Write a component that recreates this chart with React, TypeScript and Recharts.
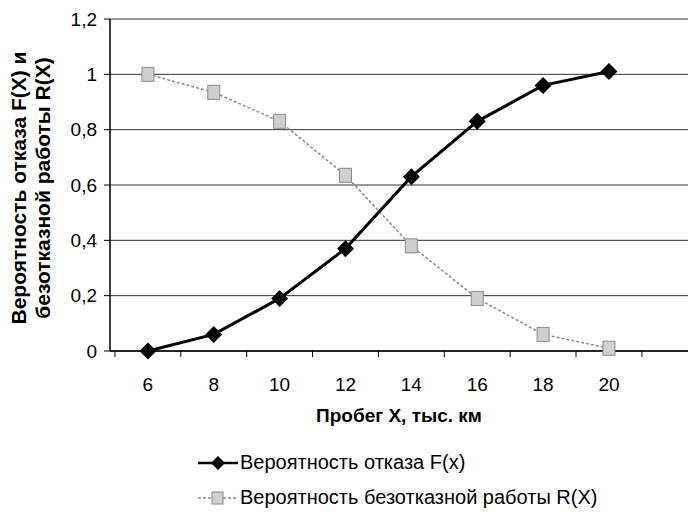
import React from 'react';
import { LineChart, Line, XAxis, YAxis, CartesianGrid, Legend, Label } from 'recharts';

const mileage = [6, 8, 10, 12, 14, 16, 18, 20];
const failure = [0, 0.06, 0.19, 0.37, 0.63, 0.83, 0.96, 1.01];
const reliability = [1.0, 0.935, 0.83, 0.635, 0.38, 0.19, 0.06, 0.01];
const yTicks = [0, 0.2, 0.4, 0.6, 0.8, 1, 1.2];
const xTicks = [5, 6, 7, 8, 9, 10, 11, 12, 13, 14, 15, 16, 17, 18, 19, 20, 21];

const fLabel = 'Вероятность отказа F(x)';
const rLabel = 'Вероятность безотказной работы R(X)';

const data = mileage.map((x, i) => ({ x, F: failure[i], R: reliability[i] }));

const FONT = '"Liberation Sans", Arial, sans-serif';

const Diamond = (props: any) => {
  const { cx, cy } = props;
  if (cx == null || cy == null) return null;
  const r = 8.5;
  return (
    <polygon
      points={`${cx},${cy - r} ${cx + r},${cy} ${cx},${cy + r} ${cx - r},${cy}`}
      fill="#000"
    />
  );
};

const Square = (props: any) => {
  const { cx, cy } = props;
  if (cx == null || cy == null) return null;
  return (
    <rect x={cx - 6} y={cy - 7} width={12} height={14} fill="#cfcfcf" stroke="#8c8c8c" strokeWidth={1} />
  );
};

// even values get a label, odd values get a tick mark between categories
const XTick = (props: any) => {
  const { x, y, payload } = props;
  const v = payload.value;
  if (v % 2 === 1) {
    return <line x1={x} y1={y} x2={x} y2={y + 6} stroke="#000" strokeWidth={1} />;
  }
  return (
    <text x={x} y={y + 27} textAnchor="middle" dy="0.71em" fontSize={19} fill="#000" fontFamily={FONT}>
      {v}
    </text>
  );
};

const YTitle = (props: any) => {
  const vb = props.viewBox;
  const cy = vb.y + vb.height / 2 + 3;
  const x1 = vb.x + 18;
  const x2 = vb.x + 42;
  return (
    <g fontFamily={FONT} fontSize={21} fontWeight="bold" fill="#000">
      <text x={x1} y={cy} textAnchor="middle" dominantBaseline="central" transform={`rotate(-90 ${x1} ${cy})`}>
        Вероятность отказа F(X) и
      </text>
      <text x={x2} y={cy} textAnchor="middle" dominantBaseline="central" transform={`rotate(-90 ${x2} ${cy})`}>
        безотказной работы R(X)
      </text>
    </g>
  );
};

const LegendBox = () => (
  <div style={{ fontFamily: FONT, fontSize: 20, color: '#000', lineHeight: '35px' }}>
    <div style={{ display: 'flex', alignItems: 'center' }}>
      <svg width={44} height={20}>
        <line x1={2} y1={10} x2={42} y2={10} stroke="#000" strokeWidth={2.5} />
        <polygon points="22,3 29,10 22,17 15,10" fill="#000" />
      </svg>
      <span>{fLabel}</span>
    </div>
    <div style={{ display: 'flex', alignItems: 'center' }}>
      <svg width={44} height={20}>
        <line x1={2} y1={10} x2={42} y2={10} stroke="#8c8c8c" strokeWidth={1.5} strokeDasharray="3 2" />
        <rect x={16} y={4} width={11} height={12} fill="#cfcfcf" stroke="#8c8c8c" />
      </svg>
      <span>{rLabel}</span>
    </div>
  </div>
);

export default function App() {
  return (
    <div style={{ position: 'absolute', left: 0, top: 0, background: '#fff' }}>
      <LineChart
        width={688}
        height={521}
        data={data}
        margin={{ top: 19, right: 0, bottom: 140, left: 0 }}
      >
        <CartesianGrid vertical={false} stroke="#333" strokeWidth={1} />
        <XAxis
          dataKey="x"
          type="number"
          domain={[4.85, 22.4]}
          ticks={xTicks}
          interval={0}
          tickLine={false}
          tickSize={0}
          tickMargin={0}
          tick={<XTick />}
          axisLine={{ stroke: '#000', strokeWidth: 1.5 }}
          height={30}
        >
          <Label
            value="Пробег X, тыс. км"
            position="bottom"
            offset={28}
            style={{ fontFamily: FONT, fontSize: 19, fontWeight: 'bold', fill: '#000' }}
          />
        </XAxis>
        <YAxis
          domain={[0, 1.2]}
          ticks={yTicks}
          interval={0}
          width={110}
          tickSize={6}
          tickMargin={7}
          tickFormatter={(v: number) => String(v).replace('.', ',')}
          tick={{ fontSize: 19, fill: '#000', fontFamily: FONT }}
          tickLine={{ stroke: '#000' }}
          axisLine={{ stroke: '#000', strokeWidth: 1.5 }}
        >
          <Label content={<YTitle />} />
        </YAxis>
        <Legend
          layout="vertical"
          verticalAlign="middle"
          align="center"
          content={<LegendBox />}
          wrapperStyle={{ top: 445, left: 196, width: 480 }}
        />
        <Line
          dataKey="R"
          name={rLabel}
          stroke="#8c8c8c"
          strokeWidth={1.5}
          strokeDasharray="3 2"
          dot={<Square />}
          isAnimationActive={false}
        />
        <Line
          dataKey="F"
          name={fLabel}
          stroke="#000"
          strokeWidth={3}
          dot={<Diamond />}
          isAnimationActive={false}
        />
      </LineChart>
    </div>
  );
}
